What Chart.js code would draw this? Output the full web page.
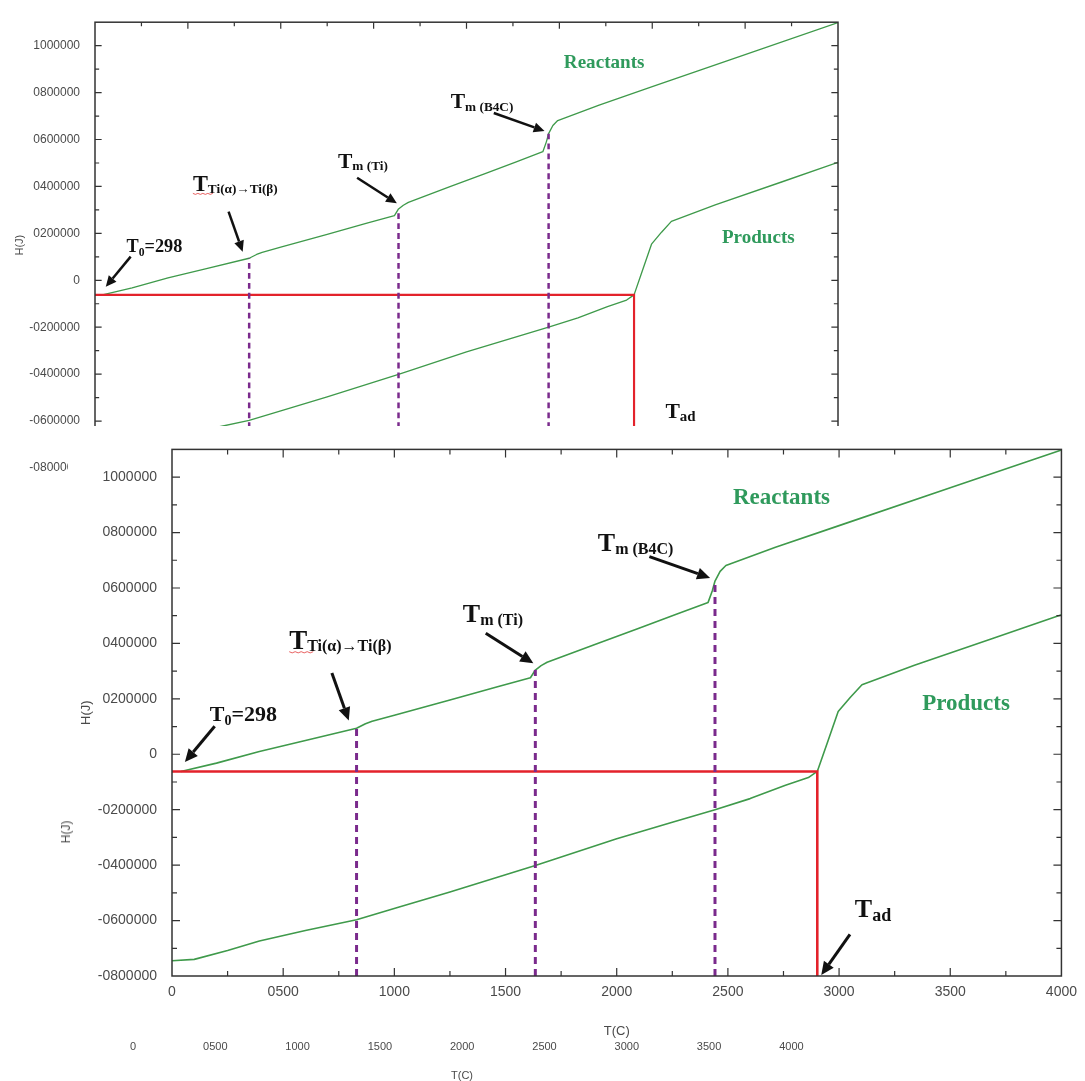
<!DOCTYPE html>
<html>
<head>
<meta charset="utf-8">
<script src="https://cdn.jsdelivr.net/npm/chart.js@4"></script>
<style>
  html, body { margin: 0; padding: 0; background: #fff; }
  body { width: 1085px; height: 1081px; position: relative; overflow: hidden; }
  #back { position: absolute; left: 0; top: 0; z-index: 0; }
  #front { position: absolute; left: 68px; top: 426px; z-index: 1; }
  #hj {
    position: absolute; left: 66px; top: 832px; z-index: 2; white-space: nowrap;
    font: 12px "Liberation Sans", Arial, sans-serif; color: #4a4a4a;
    transform: translate(-50%, -50%) rotate(-90deg);
  }
</style>
</head>
<body>
<canvas id="back" width="1085" height="1081"></canvas>
<canvas id="front" width="1017" height="614"></canvas>
<div id="hj">H(J)</div>
<script>
// axis ticks
const xTickValues = [0, 500, 1000, 1500, 2000, 2500, 3000, 3500, 4000];
const xTickLabels = ["0", "0500", "1000", "1500", "2000", "2500", "3000", "3500", "4000"];
const yTickValues = [-800000, -600000, -400000, -200000, 0, 200000, 400000, 600000, 800000, 1000000];
const yTickLabels = ["-0800000", "-0600000", "-0400000", "-0200000", "0", "0200000", "0400000", "0600000", "0800000", "1000000"];

// enthalpy curves, T(C) vs H(J)
const reactT = [40, 200, 393, 600, 830, 870, 900, 1000, 1250, 1464, 1612, 1634, 1660, 1687, 1911, 2100, 2268, 2411, 2430, 2442, 2465, 2491, 2714, 3000, 3500, 4000];
const reactH = [-62000, -32000, 10000, 50000, 94000, 110000, 119000, 141000, 196000, 244000, 276000, 304000, 320000, 332000, 399000, 455000, 505000, 548000, 590000, 625000, 660000, 681000, 747000, 825000, 962000, 1098000];
const prodT = [0, 100, 250, 393, 600, 830, 1018, 1250, 1634, 2000, 2250, 2442, 2600, 2759, 2862, 2902, 2950, 2996, 3050, 3103, 3339, 3700, 4000];
const prodH = [-745000, -740000, -708000, -674000, -636000, -597000, -552000, -497000, -401000, -305000, -245000, -200000, -160000, -112000, -84000, -62000, 48000, 154000, 205000, 251000, 321000, 420000, 503000];

// transition markers and adiabatic construction
const markerT = [830, 1634, 2442];
const markerTop = [94000, 304000, 625000];
const tAd = 2902;
const hStart = -62000;

// annotations (in data units)
const labels = [
  { t: 170, h: 119000, parts: [["T", 22, 0], ["0", 14, 4], ["=298", 22, 0]] },
  { t: 527, h: 381000, parts: [["T", 27, 0], ["Ti(α)→Ti(β)", 16, 2]], squiggle: true },
  { t: 1308, h: 479000, parts: [["T", 26, 0], ["m (Ti)", 16, 3]] },
  { t: 1915, h: 734000, parts: [["T", 26, 0], ["m (B4C)", 16, 3]] },
  { t: 3071, h: -587000, parts: [["T", 26, 0], ["ad", 18, 4]] }
];
const arrows = [
  { from: [192, 101000], to: [58, -28000] },
  { from: [719, 293000], to: [795, 122000] },
  { from: [1411, 437000], to: [1625, 328000] },
  { from: [2147, 713000], to: [2420, 636000] },
  { from: [3049, -650000], to: [2920, -796000] }
];
const seriesNames = [
  { text: "Reactants", t: 2741, h: 926000 },
  { text: "Products", t: 3571, h: 182000 }
];

const SERIF = '"Liberation Serif", "Times New Roman", serif';
const SANS = '"Liberation Sans", Arial, sans-serif';

function pts(xs, ys) {
  return xs.map((x, i) => ({ x: x, y: ys[i] }));
}

function drawArrow(ctx, x1, y1, x2, y2, k) {
  const a = Math.atan2(y2 - y1, x2 - x1);
  const hl = 13 * k, hw = 6 * k;
  const bx = x2 - hl * Math.cos(a), by = y2 - hl * Math.sin(a);
  ctx.strokeStyle = "#111";
  ctx.fillStyle = "#111";
  ctx.lineWidth = 3 * k;
  ctx.beginPath();
  ctx.moveTo(x1, y1);
  ctx.lineTo(bx, by);
  ctx.stroke();
  ctx.beginPath();
  ctx.moveTo(x2, y2);
  ctx.lineTo(bx - hw * Math.sin(a), by + hw * Math.cos(a));
  ctx.lineTo(bx + hw * Math.sin(a), by - hw * Math.cos(a));
  ctx.closePath();
  ctx.fill();
}

const framePlugin = {
  id: "frame",
  beforeDraw(chart) {
    const ctx = chart.ctx;
    ctx.save();
    ctx.fillStyle = "#fff";
    ctx.fillRect(0, 0, chart.width, chart.height);
    ctx.restore();
  },
  afterDatasetsDraw(chart, args, o) {
    const { ctx, chartArea: a, scales: { x, y } } = chart;
    const k = o.k;
    ctx.save();
    // box with inward ticks on all four sides
    ctx.strokeStyle = "#333";
    ctx.lineWidth = 1.5;
    ctx.strokeRect(a.left, a.top, a.right - a.left, a.bottom - a.top);
    ctx.lineWidth = 1.2;
    ctx.beginPath();
    for (let v = 250; v < 4000; v += 250) {
      const px = x.getPixelForValue(v);
      const len = (v % 500 === 0 ? 8 : 5) * k;
      ctx.moveTo(px, a.bottom); ctx.lineTo(px, a.bottom - len);
      ctx.moveTo(px, a.top); ctx.lineTo(px, a.top + len);
    }
    for (let v = -700000; v < 1100000; v += 100000) {
      const py = y.getPixelForValue(v);
      const len = (v % 200000 === 0 ? 8 : 5) * k;
      ctx.moveTo(a.left, py); ctx.lineTo(a.left + len, py);
      ctx.moveTo(a.right, py); ctx.lineTo(a.right - len, py);
    }
    ctx.stroke();

    // arrows
    arrows.forEach(ar => {
      drawArrow(ctx,
        x.getPixelForValue(ar.from[0]), y.getPixelForValue(ar.from[1]),
        x.getPixelForValue(ar.to[0]), y.getPixelForValue(ar.to[1]), k);
    });

    // temperature labels
    ctx.fillStyle = "#111";
    ctx.textBaseline = "alphabetic";
    ctx.textAlign = "left";
    labels.forEach(l => {
      const x0 = x.getPixelForValue(l.t);
      const by = y.getPixelForValue(l.h);
      let cx = x0;
      l.parts.forEach(([s, size, dy]) => {
        ctx.font = "bold " + size * k + "px " + SERIF;
        ctx.fillText(s, cx, by + dy * k);
        cx += ctx.measureText(s).width;
      });
      if (l.squiggle) {
        ctx.strokeStyle = "#e23a3a";
        ctx.lineWidth = 0.8;
        ctx.beginPath();
        for (let i = 0; i <= 8; i++) {
          const sx = x0 + i * 3 * k;
          const sy = by + (3 + (i % 2 ? 1.2 : 0)) * k;
          if (i === 0) ctx.moveTo(sx, sy); else ctx.lineTo(sx, sy);
        }
        ctx.stroke();
      }
    });

    // series names
    ctx.fillStyle = "#2f9a5c";
    ctx.textAlign = "center";
    ctx.textBaseline = "middle";
    ctx.font = "bold " + 23 * k + "px " + SERIF;
    seriesNames.forEach(s => {
      ctx.fillText(s.text, x.getPixelForValue(s.t), y.getPixelForValue(s.h));
    });

    // stray axis labels of the underlying copy
    if (o.extraX) {
      const e = o.extraX;
      ctx.fillStyle = "#4a4a4a";
      ctx.font = e.size + "px " + SANS;
      xTickLabels.forEach((s, i) => ctx.fillText(s, e.x0 + i * e.dx, e.y));
      ctx.fillText("T(C)", e.titleX, e.titleY);
    }
    ctx.restore();
  }
};

function makeChart(canvas, c) {
  const k = c.k;
  const datasets = [];
  markerT.forEach((t, i) => {
    datasets.push({
      data: pts([t, t], [-800000, markerTop[i]]),
      borderColor: "#7a2a8c", borderWidth: 3 * k, borderDash: [7 * k, 5 * k]
    });
  });
  datasets.push({
    data: pts([0, tAd, tAd], [hStart, hStart, -800000]),
    borderColor: "#e3222b", borderWidth: 2.6 * k, borderJoinStyle: "miter"
  });
  datasets.push({ data: pts(reactT, reactH), borderColor: "#3f9a4b", borderWidth: 1.6 * k });
  datasets.push({ data: pts(prodT, prodH), borderColor: "#3f9a4b", borderWidth: 1.6 * k });
  datasets.forEach(d => { d.pointRadius = 0; d.tension = 0; d.fill = false; d.borderJoinStyle = d.borderJoinStyle || "round"; });

  return new Chart(canvas, {
    type: "line",
    data: { datasets },
    plugins: [framePlugin],
    options: {
      responsive: false,
      animation: false,
      layout: { padding: c.padding },
      plugins: {
        legend: { display: false },
        tooltip: { enabled: false },
        frame: { k: k, extraX: c.extraX }
      },
      scales: {
        x: {
          type: "linear",
          min: 0,
          max: 4000,
          display: c.showX,
          afterBuildTicks: s => { s.ticks = xTickValues.map(v => ({ value: v })); },
          afterFit: s => { s.height = c.xHeight; },
          grid: { display: false, drawTicks: false },
          border: { display: false },
          ticks: {
            autoSkip: false,
            maxRotation: 0,
            padding: 8,
            color: "#4a4a4a",
            font: { family: SANS, size: 14 },
            callback: (v, i) => xTickLabels[i]
          },
          title: {
            display: true,
            text: "T(C)",
            color: "#4a4a4a",
            font: { family: SANS, size: 13 },
            padding: { top: 0, bottom: 1 }
          }
        },
        y: {
          type: "linear",
          min: -800000,
          max: 1100000,
          afterBuildTicks: s => { s.ticks = yTickValues.map(v => ({ value: v })); },
          afterFit: s => { s.width = c.yWidth; },
          grid: { display: false, drawTicks: false },
          border: { display: false },
          ticks: {
            padding: 15,
            color: "#4a4a4a",
            font: { family: SANS, size: c.yFont },
            callback: (v, i) => yTickLabels[i]
          },
          title: {
            display: true,
            text: "H(J)",
            color: "#4a4a4a",
            font: { family: SANS, size: c.yTitleFont },
            padding: { top: c.yTitlePad, bottom: 0 }
          }
        }
      }
    }
  });
}

// underlying, partly hidden copy
makeChart(document.getElementById("back"), {
  k: 0.83,
  padding: { left: 0, top: 14, right: 247, bottom: 613 },
  showX: false,
  xHeight: 0,
  yWidth: 95,
  yFont: 12,
  yTitleFont: 11,
  yTitlePad: 13,
  extraX: { x0: 133, dx: 82.3, y: 1047, titleX: 462, titleY: 1076, size: 11 }
});

// front chart
makeChart(document.getElementById("front"), {
  k: 1,
  padding: { left: 0, top: 6, right: 17, bottom: 0 },
  showX: true,
  xHeight: 64,
  yWidth: 104,
  yFont: 14,
  yTitleFont: 13,
  yTitlePad: 11
});
</script>
</body>
</html>
